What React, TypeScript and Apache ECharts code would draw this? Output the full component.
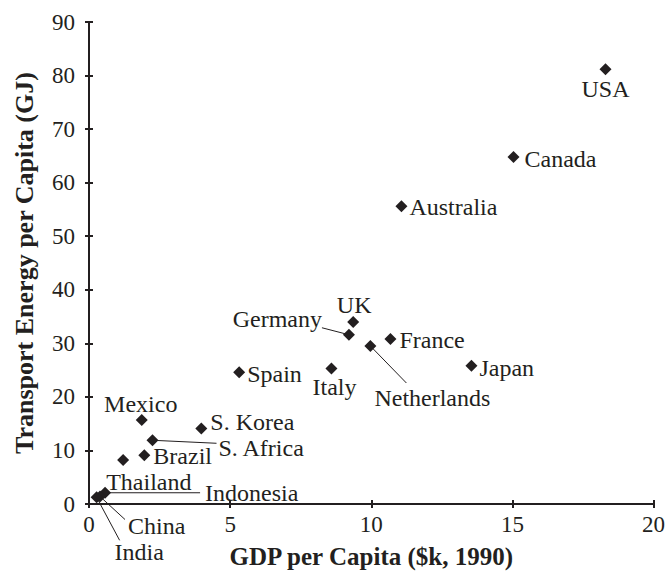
import React, { useEffect, useRef } from "react";
import * as echarts from "echarts";

const countries = [
  "USA", "Canada", "Australia", "UK", "Germany", "France", "Netherlands",
  "Spain", "Italy", "Japan", "Mexico", "S. Korea", "S. Africa", "Brazil",
  "Thailand", "Indonesia", "China", "India",
];
const gdpPerCapita = [
  18.3, 15.04, 11.07, 9.36, 9.21, 10.68, 9.97,
  5.32, 8.59, 13.55, 1.87, 3.98, 2.25, 1.96,
  1.21, 0.57, 0.39, 0.27,
];
const energyPerCapita = [
  81.2, 64.8, 55.6, 34.0, 31.6, 30.8, 29.5,
  24.6, 25.3, 25.8, 15.7, 14.1, 11.9, 9.1,
  8.2, 2.1, 1.4, 1.25,
];
const xTicks = [0, 5, 10, 15, 20];
const yTicks = [0, 10, 20, 30, 40, 50, 60, 70, 80, 90];

// label placement (pixels, relative to the marker) — styling only
type Placement = { dx: number; dy: number; align: string; line?: [number, number] };
const placements: Placement[] = [
  { dx: 0, dy: 20, align: "center" },
  { dx: 11, dy: 2, align: "left" },
  { dx: 8, dy: 1, align: "left" },
  { dx: 1, dy: -17, align: "center" },
  { dx: -27, dy: -16, align: "right", line: [-27, -7] },
  { dx: 9, dy: 1, align: "left" },
  { dx: 4, dy: 52, align: "left", line: [36, 37] },
  { dx: 8, dy: 2, align: "left" },
  { dx: 3, dy: 18, align: "center" },
  { dx: 8, dy: 2, align: "left" },
  { dx: -1, dy: -16, align: "center" },
  { dx: 9, dy: -6, align: "left" },
  { dx: 66, dy: 8, align: "left", line: [64, 3] },
  { dx: 9, dy: 1, align: "left" },
  { dx: -17, dy: 22, align: "left" },
  { dx: 100, dy: 0, align: "left", line: [95, 0] },
  { dx: 28, dy: 29, align: "left", line: [25, 23] },
  { dx: 18, dy: 55, align: "left", line: [23, 43] },
];

const FONT = '"Liberation Serif", "Times New Roman", Times, serif';
const INK = "#231f20";

export default function App() {
  const ref = useRef<HTMLDivElement>(null);
  useEffect(() => {
    if (!ref.current) return;
    const chart = echarts.init(ref.current, undefined, { renderer: "svg" });
    const pts = gdpPerCapita.map((g, i) => [g, energyPerCapita[i], i]);
    chart.setOption({
      animation: false,
      backgroundColor: "#ffffff",
      grid: { left: 89, right: 14, top: 22, bottom: 76, containLabel: false },
      xAxis: [
        {
          type: "value",
          min: xTicks[0],
          max: xTicks[xTicks.length - 1],
          interval: xTicks[1] - xTicks[0],
          name: "GDP per Capita ($k, 1990)",
          nameLocation: "middle",
          nameGap: 40,
          nameTextStyle: { fontFamily: FONT, fontWeight: "bold", fontSize: 25, color: INK },
          axisLine: { show: true, onZero: false, lineStyle: { color: INK, width: 2 } },
          axisTick: { show: true, inside: false, length: 4, lineStyle: { color: INK, width: 2 } },
          axisLabel: { fontFamily: FONT, fontSize: 23, color: INK, margin: 9 },
          splitLine: { show: false },
        },
        {
          type: "value",
          position: "bottom",
          min: xTicks[0],
          max: xTicks[xTicks.length - 1],
          interval: xTicks[1] - xTicks[0],
          axisLine: { show: false },
          axisTick: { show: true, inside: true, length: 4, lineStyle: { color: INK, width: 2 } },
          axisLabel: { show: false },
          splitLine: { show: false },
        },
      ],
      yAxis: [
        {
          type: "value",
          min: yTicks[0],
          max: yTicks[yTicks.length - 1],
          interval: yTicks[1] - yTicks[0],
          name: "Transport Energy per Capita (GJ)",
          nameLocation: "middle",
          nameGap: 52,
          nameTextStyle: { fontFamily: FONT, fontWeight: "bold", fontSize: 26, color: INK },
          axisLine: { show: true, onZero: false, lineStyle: { color: INK, width: 2 } },
          axisTick: { show: true, inside: false, length: 4, lineStyle: { color: INK, width: 2 } },
          axisLabel: { fontFamily: FONT, fontSize: 23, color: INK, margin: 14 },
          splitLine: { show: false },
        },
        {
          type: "value",
          position: "left",
          min: yTicks[0],
          max: yTicks[yTicks.length - 1],
          interval: yTicks[1] - yTicks[0],
          axisLine: { show: false },
          axisTick: { show: true, inside: true, length: 4, lineStyle: { color: INK, width: 2 } },
          axisLabel: { show: false },
          splitLine: { show: false },
        },
      ],
      series: [
        {
          type: "custom",
          xAxisIndex: 0,
          yAxisIndex: 0,
          data: pts,
          clip: false,
          z: 1,
          renderItem: (params: any, api: any) => {
            const i = api.value(2) as number;
            const p = api.coord([api.value(0), api.value(1)]);
            const pl = placements[i];
            const children: any[] = [];
            if (pl.line) {
              children.push({
                type: "line",
                shape: { x1: p[0], y1: p[1], x2: p[0] + pl.line[0], y2: p[1] + pl.line[1] },
                style: { stroke: INK, lineWidth: 1 },
              });
            }
            children.push({
              type: "text",
              x: p[0] + pl.dx,
              y: p[1] + pl.dy,
              style: {
                text: countries[i],
                fill: INK,
                fontSize: 24,
                lineHeight: 20,
                fontFamily: FONT,
                align: pl.align,
                verticalAlign: "middle",
              },
            });
            return { type: "group", children };
          },
        },
        {
          type: "scatter",
          xAxisIndex: 0,
          yAxisIndex: 0,
          symbol: "diamond",
          symbolSize: 12,
          z: 3,
          itemStyle: { color: INK, opacity: 1 },
          data: pts,
        },
      ],
    });
    return () => chart.dispose();
  }, []);
  return <div ref={ref} style={{ width: 668, height: 580, position: "absolute", left: 0, top: 0 }} />;
}
